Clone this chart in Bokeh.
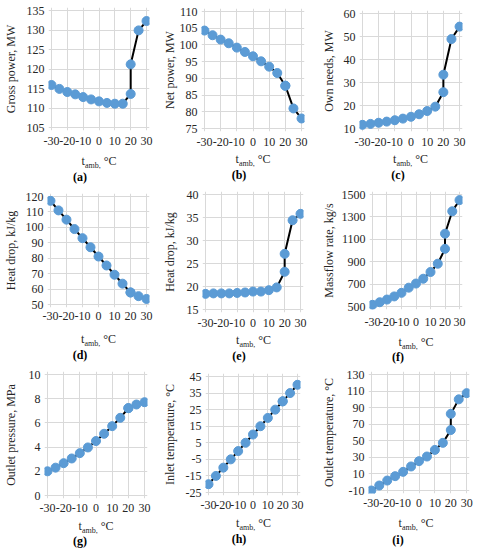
from bokeh.plotting import figure
from bokeh.layouts import row, column
from bokeh.models import FixedTicker, Range1d, Div
from bokeh.embed import file_html
from bokeh.resources import INLINE

# ---------------- data ----------------
t_amb = [-30, -25, -20, -15, -10, -5, 0, 5, 10, 15, 20, 20, 25, 30]
x_ticks = [-30, -20, -10, 0, 10, 20, 30]

gross_power = [115.9, 114.9, 114.1, 113.5, 112.8, 112.2, 111.7, 111.3, 111.1, 111.1, 113.6, 121.2, 129.9, 132.3]
net_power = [104.3, 102.9, 101.6, 100.5, 99.2, 97.9, 96.6, 95.1, 93.5, 91.6, 87.8, 87.8, 81.0, 78.0]
own_needs = [11.6, 12.0, 12.5, 13.0, 13.6, 14.3, 15.1, 16.2, 17.6, 19.5, 25.8, 33.4, 48.9, 54.3]
heat_drop_d = [117.2, 111.0, 105.0, 98.9, 93.0, 87.1, 81.1, 75.3, 69.3, 63.5, 57.8, 57.8, 55.4, 53.6]
heat_drop_e = [18.4, 18.5, 18.5, 18.5, 18.6, 18.7, 18.9, 18.9, 19.2, 19.8, 23.2, 27.1, 34.4, 35.8]
massflow = [515, 538, 562, 590, 622, 668, 705, 748, 808, 882, 1015, 1150, 1350, 1450]
outlet_pressure = [2.0, 2.3, 2.67, 3.06, 3.5, 3.97, 4.5, 5.1, 5.73, 6.42, 7.22, 7.22, 7.52, 7.71]
inlet_temp = [-20, -15, -10, -5, 0, 5, 10, 15, 20, 25, 30, 30, 35, 40]
outlet_temp = [-10, -4, 2, 7.3, 12.5, 19, 25.4, 31, 39, 47.5, 63, 82.5, 100, 107.5]

ticks_a = [105, 110, 115, 120, 125, 130, 135]
ticks_b = [75, 80, 85, 90, 95, 100, 105, 110]
ticks_c = [10, 20, 30, 40, 50, 60]
ticks_d = [50, 60, 70, 80, 90, 100, 110, 120]
ticks_e = [15, 20, 25, 30, 35, 40]
ticks_f = [500, 700, 900, 1100, 1300, 1500]
ticks_g = [0, 2, 4, 6, 8, 10]
ticks_h = [-25, -15, -5, 5, 15, 25, 35, 45]
ticks_i = [-10, 10, 30, 50, 70, 90, 110, 130]

letters = ["(a)", "(b)", "(c)", "(d)", "(e)", "(f)", "(g)", "(h)", "(i)"]
y_labels = ["Gross power, MW", "Net power, MW", "Own needs, MW",
            "Heat drop, kJ/kg", "Heat drop, kJ/kg", "Massflow rate, kg/s",
            "Outlet pressure, MPa", "Inlet temperature, \u00b0C", "Outlet temperature, \u00b0C"]
series = [gross_power, net_power, own_needs, heat_drop_d, heat_drop_e, massflow,
          outlet_pressure, inlet_temp, outlet_temp]
y_ticks = [ticks_a, ticks_b, ticks_c, ticks_d, ticks_e, ticks_f, ticks_g, ticks_h, ticks_i]

# ---------------- layout / style ----------------
FONT = "Liberation Serif"
W = 159
PAD = 3
col_left = [0, 159, 318]
row_top = [0, 184, 364]
row_h = [184, 180, 184]
# grid rectangle in page pixels: left, right, top, bottom
grid_px = [(50, 146, 10, 127), (203, 301, 11, 128), (360, 459, 13, 128),
           (49, 146, 196, 304), (205, 300, 194, 309), (371, 459, 194, 306),
           (46, 144, 374, 495), (208, 297, 376, 492), (364, 466, 374, 490)]
ylabel_standoff = [6, 0, 5, 5, 7, 3, 8, 6, 8]
tick_standoff = [6, 6, 6, 4, 6, 8, 5, 5, 5]
tamb_off = [34, 31, 31, 35, 31, 36, 31, 31, 33]      # centre, px below grid bottom
letter_off = [50, 47, 47, 51, 47, 51, 46, 47, 50]    # centre, px below grid bottom

MARKER = "#5B9BD5"
GRID = "#D9D9D9"
TEXT = "#262626"

cells = []
for idx in range(9):
    r, c = divmod(idx, 3)
    gl, gr, gt, gb = grid_px[idx]
    fl = col_left[c]
    ft = row_top[r]
    below = PAD + tick_standoff[idx] + 15      # px from grid bottom to figure bottom
    fig_h = gb + below - ft
    L = gl - PAD - fl
    R = fl + W - (gr + PAD)
    T = gt - PAD - ft
    B = below - PAD
    gw = gr - gl
    gh = gb - gt
    yt = y_ticks[idx]
    kx = (x_ticks[-1] - x_ticks[0]) / gw   # data units per pixel
    ky = (yt[-1] - yt[0]) / gh
    xr = Range1d(x_ticks[0] - PAD * kx, x_ticks[-1] + PAD * kx)
    yr = Range1d(yt[0] - PAD * ky, yt[-1] + PAD * ky)

    p = figure(width=W, height=fig_h, x_range=xr, y_range=yr,
               output_backend="svg", toolbar_location=None,
               min_border_left=L, min_border_right=R,
               min_border_top=T, min_border_bottom=B)
    p.outline_line_color = None
    p.background_fill_color = "white"
    p.border_fill_color = "white"

    p.xaxis.ticker = FixedTicker(ticks=x_ticks)
    p.yaxis.ticker = FixedTicker(ticks=yt)
    p.xaxis.major_label_overrides = {v: str(v) for v in x_ticks}
    p.yaxis.major_label_overrides = {v: str(v) for v in yt}
    p.axis.axis_line_color = None
    p.axis.major_tick_line_color = None
    p.axis.minor_tick_line_color = None
    p.axis.major_tick_out = 0
    p.axis.major_tick_in = 0
    p.axis.major_label_text_font = FONT
    p.axis.major_label_text_font_size = "12px"
    p.axis.major_label_text_color = TEXT
    p.xaxis.major_label_standoff = tick_standoff[idx]
    p.yaxis.major_label_standoff = 4
    p.yaxis.axis_label = y_labels[idx]
    p.yaxis.axis_label_text_font = FONT
    p.yaxis.axis_label_text_font_size = "12px"
    p.yaxis.axis_label_text_font_style = "normal"
    p.yaxis.axis_label_text_color = TEXT
    p.yaxis.axis_label_standoff = ylabel_standoff[idx]
    p.grid.grid_line_color = GRID
    p.grid.grid_line_width = 1

    p.line(t_amb, series[idx], line_color="black", line_width=2)
    p.scatter(t_amb, series[idx], size=9, fill_color=MARKER, line_color=MARKER)

    # text block under the figure: x-axis title with subscript and panel letter
    div_h = ft + row_h[r] - (gb + below)
    cx = (gl + gr) / 2 + 1 - fl
    ty = tamb_off[idx] - below - 7
    ly = letter_off[idx] - below - 7
    html = (
        f'<div style="position:relative;width:{W}px;height:{div_h}px;'
        f'font-family:\'{FONT}\',serif;color:{TEXT};">'
        f'<div style="position:absolute;left:{cx - 40}px;top:{ty}px;width:80px;height:14px;'
        f'text-align:center;font-size:12px;line-height:14px;white-space:nowrap;">'
        f't<sub style="font-size:8px;line-height:0;">amb,</sub> \u00b0C</div>'
        f'<div style="position:absolute;left:{80 - 40}px;top:{ly}px;width:80px;height:14px;'
        f'text-align:center;font-size:12px;line-height:14px;font-weight:bold;color:black;">'
        f'{letters[idx]}</div></div>'
    )
    d = Div(text=html, width=W, height=div_h, margin=(0, 0, 0, 0))
    cells.append(column(p, d, spacing=0))

layout = column(row(cells[0:3], spacing=0), row(cells[3:6], spacing=0),
                row(cells[6:9], spacing=0), spacing=0)

open("out.html", "w").write(file_html(layout, INLINE))
